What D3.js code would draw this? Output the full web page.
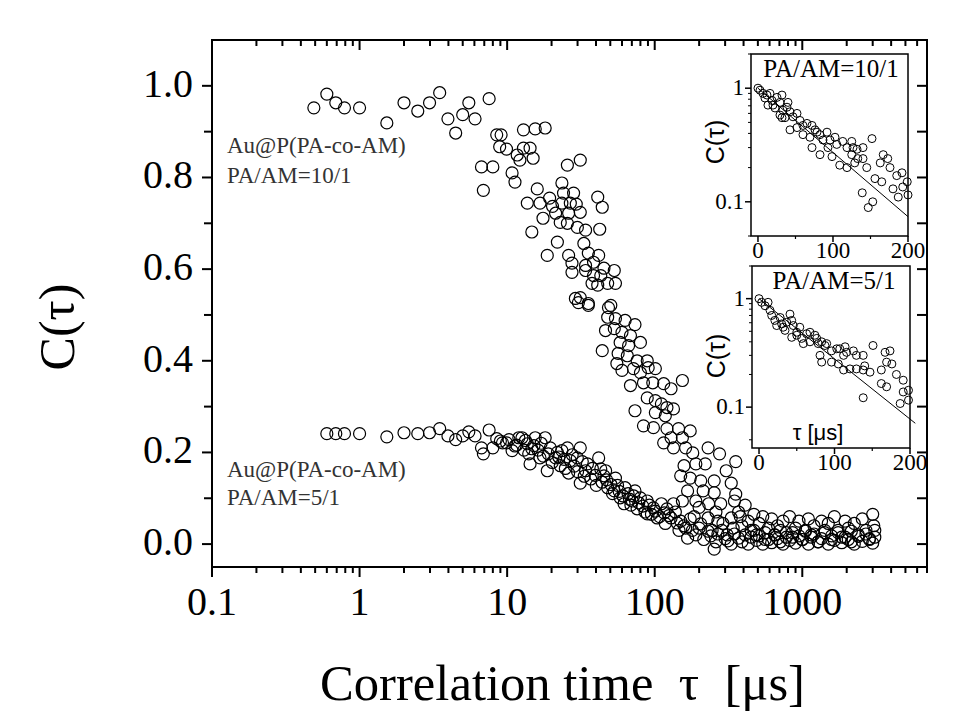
<!DOCTYPE html>
<html><head><meta charset="utf-8">
<script src="https://cdn.jsdelivr.net/npm/d3@7"></script>
<style>body{margin:0;background:#fff}svg{display:block}</style>
</head><body>
<script>
// ---------- DATA ----------
const xTickValues = [0.1, 1, 10, 100, 1000];
const xTickLabels = ["0.1", "1", "10", "100", "1000"];
const yTickValues = [0.0, 0.2, 0.4, 0.6, 0.8, 1.0];
const yTickLabels = ["0.0", "0.2", "0.4", "0.6", "0.8", "1.0"];

// PA/AM = 10/1  [tau (us), C(tau)]
const series10 = [
[0.49,0.952],[0.60,0.982],[0.69,0.963],[0.79,0.952],[1.0,0.952],[1.53,0.919],[2.0,0.963],[2.48,0.945],[2.98,0.963],[3.49,0.985],
[3.97,0.928],[4.48,0.897],[5.0,0.937],[5.5,0.963],[6.06,0.928],[6.7,0.823],[6.9,0.772],[7.55,0.972],[8.0,0.823],[8.5,0.893],
[8.9,0.867],[9.1,0.893],[9.9,0.862],[10.8,0.81],[11.3,0.79],[11.7,0.849],[12.2,0.838],[12.9,0.904],[12.9,0.864],[13.7,0.744],
[14.3,0.864],[14.7,0.681],[15.0,0.842],[15.5,0.906],[16.0,0.775],[16.7,0.744],[17.5,0.711],[18.1,0.908],[18.7,0.63],[19.4,0.755],
[20.3,0.737],[21.3,0.722],[21.9,0.659],[22.9,0.702],[23.5,0.788],[23.5,0.744],[24.1,0.766],[25.6,0.827],[25.6,0.70],[26.1,0.722],
[26.1,0.63],[26.8,0.744],[27.5,0.613],[27.5,0.593],[28.2,0.766],[29.0,0.536],[29.4,0.742],[29.9,0.691],[30.4,0.527],[31.3,0.838],
[31.3,0.724],[31.3,0.538],[33.1,0.656],[34.0,0.685],[34.0,0.608],[34.0,0.597],[35.5,0.635],[35.5,0.525],[35.5,0.521],[37.6,0.569],
[38.5,0.615],[38.5,0.586],[41.1,0.757],[41.1,0.565],[41.7,0.63],[42.4,0.687],[43.1,0.586],[44.1,0.735],[44.1,0.422],[45.3,0.602],
[46.4,0.466],[48.0,0.569],[48.0,0.495],[48.6,0.516],[50.4,0.521],[53.2,0.597],[53.2,0.47],[54.2,0.569],[54.2,0.492],[55.4,0.394],
[56.5,0.416],[58.3,0.44],[60.0,0.462],[60.0,0.379],[63.0,0.488],[65.2,0.411],[66.5,0.433],[68.5,0.455],[68.5,0.346],[71.8,0.383],
[73.5,0.479],[73.5,0.291],[76.0,0.40],[80.0,0.44],[80.0,0.374],[83.9,0.352],[83.9,0.258],[89.0,0.40],[89.0,0.319],[90.3,0.385],
[97,0.352],[98,0.254],[101,0.383],[101,0.313],[101,0.287],[111,0.306],[115,0.35],[115,0.221],[118,0.28],[121,0.298],
[121,0.252],[129,0.339],[129,0.232],[134,0.295],[134,0.21],[145,0.252],[150,0.149],[154,0.357],[154,0.232],[158,0.171],
[162,0.21],[167,0.116],[174,0.247],[174,0.144],[181,0.199],[185,0.06],[190,0.175],[190,0.094],[200,0.08],[205,0.138],
[213,0.116],[220,0.175],[230,0.21],[230,0.057],[232,0.088],[245,0.03],[253,0.138],[253,0.112],[260,0.07],[268,0.05],
[275,0.197],[280,0.088],[290,0.045],[305,0.16],[310,0.02],[330,0.133],[330,0.057],[340,0.035],[347,0.094],[354,0.18],
[354,0.109],[370,0.07],[380,0.06],[390,0.04],[410,0.085],[430,0.05],[450,0.03],[470,0.065],[490,0.02],[510,0.045],
[540,0.06],[560,0.01],[590,0.035],[620,0.055],[650,0.02],[680,0.04],[710,0.005],[740,0.05],[780,0.025],[820,0.06],
[860,0.015],[900,0.035],[950,0.05],[1000,0.01],[1050,0.03],[1100,0.055],[1150,0.02],[1200,0.04],[1280,0.005],[1350,0.05],
[1420,0.025],[1500,0.045],[1580,0.01],[1650,0.06],[1750,0.03],[1850,0.015],[1950,0.05],[2050,0.035],[2150,0.005],[2250,0.045],
[2400,0.02],[2550,0.055],[2700,0.03],[2850,0.01],[3000,0.065],[3050,0.04],[3100,0.015]
];

// PA/AM = 5/1
const series5 = [
[0.6,0.241],[0.69,0.241],[0.79,0.241],[1.0,0.241],[1.53,0.234],[2.0,0.243],[2.48,0.241],[2.98,0.243],[3.49,0.252],[3.97,0.236],
[4.48,0.228],[5.0,0.236],[5.5,0.245],[6.06,0.236],[6.7,0.21],[6.9,0.197],[7.55,0.249],[8.0,0.21],[8.5,0.23],[9.0,0.225],
[9.3,0.221],[9.9,0.221],[10.3,0.228],[10.8,0.204],[11.3,0.214],[11.6,0.216],[12.0,0.232],[12.6,0.232],[13.0,0.205],[13.3,0.226],
[13.7,0.219],[14.0,0.197],[14.3,0.175],[14.7,0.208],[15.2,0.215],[15.5,0.232],[16.2,0.205],[16.7,0.188],[17.0,0.22],[17.6,0.192],
[18.1,0.232],[18.7,0.16],[19.0,0.197],[19.6,0.21],[20.2,0.178],[21.3,0.188],[21.9,0.2],[22.4,0.19],[22.9,0.171],[23.5,0.204],
[24.3,0.185],[24.8,0.165],[25.6,0.21],[26.1,0.155],[26.8,0.182],[27.6,0.195],[28.5,0.17],[29.9,0.188],[30.0,0.158],[31.3,0.21],
[31.3,0.133],[32.3,0.18],[33.3,0.148],[34.0,0.16],[35.0,0.175],[36.9,0.142],[37.8,0.165],[39.5,0.15],[40.2,0.128],[41.7,0.188],
[43.1,0.164],[44.0,0.135],[45.3,0.149],[46.5,0.16],[47.2,0.14],[48.0,0.123],[50.5,0.13],[51.8,0.11],[53.2,0.116],[54.2,0.144],
[56.0,0.128],[57.5,0.115],[58.3,0.101],[61.0,0.105],[62.0,0.088],[63.0,0.123],[66.0,0.11],[67.5,0.098],[69.0,0.085],[70.5,0.094],
[72.0,0.105],[73.5,0.116],[76,0.077],[78,0.09],[80,0.101],[83,0.083],[86,0.07],[89,0.094],[89,0.066],[92,0.085],
[95,0.065],[98,0.079],[101,0.072],[104,0.057],[108,0.06],[111,0.088],[116,0.068],[118,0.045],[121,0.077],[125,0.062],
[129,0.057],[134,0.088],[138,0.07],[142,0.046],[146,0.03],[150,0.05],[154,0.094],[158,0.04],[162,0.035],[167,0.013],
[174,0.055],[180,0.03],[190,0.02],[200,0.035],[205,0.044],[215,0.01],[230,0.028],[240,0.018],[253,-0.011],[260,0.005],
[268,0.022],[285,0.03],[300,0.012],[313,0.007],[330,0.0],[347,0.022],[370,0.013],[390,0.005],[410,0.02],[430,0.0],
[450,0.015],[470,0.03],[490,0.008],[510,0.018],[540,0.0],[560,0.025],[590,0.01],[620,0.003],[650,0.02],[680,0.012],
[710,0.03],[740,0.0],[780,0.015],[820,0.008],[860,0.025],[900,0.002],[950,0.018],[1000,0.01],[1050,0.028],[1100,0.0],
[1150,0.015],[1200,0.022],[1280,0.005],[1350,0.012],[1420,0.03],[1500,0.0],[1580,0.018],[1650,0.008],[1750,0.025],[1850,0.003],
[1950,0.015],[2050,0.01],[2150,0.028],[2250,0.0],[2400,0.017],[2550,0.006],[2700,0.022],[2850,0.012],[3000,0.002],[3100,0.03]
];

// Inset data (linear tau, log C)
const inset10 = [
[0,1.0],[2.7,0.96],[6.7,0.90],[9.3,0.82],[12,0.87],[16,0.90],[18.7,0.78],[13.3,0.71],[20,0.71],[25.3,0.83],
[29.3,0.75],[32,0.87],[33.3,0.64],[29.3,0.58],[22.7,0.67],[38.7,0.68],[40,0.75],[42.7,0.62],[32,0.55],[36,0.55],
[46.7,0.56],[52,0.60],[56,0.52],[42.7,0.43],[52,0.45],[60,0.47],[65.3,0.49],[72,0.47],[76,0.43],[60,0.39],
[69.3,0.37],[78.7,0.41],[82.7,0.39],[92,0.41],[86.7,0.35],[96,0.35],[102.7,0.37],[72,0.30],[82.7,0.26],[93.3,0.30],
[98.7,0.25],[105,0.32],[113,0.34],[118.7,0.30],[125,0.34],[126.7,0.30],[132,0.29],[140,0.30],[125,0.26],[133,0.24],
[140,0.24],[109,0.21],[118.7,0.20],[129,0.22],[145,0.20],[152,0.36],[167,0.26],[173,0.24],[163,0.22],[176,0.20],
[156,0.16],[165,0.15],[185,0.17],[192,0.18],[180,0.13],[193,0.135],[199,0.15],[139,0.12],[187,0.11],[200,0.115],
[153,0.10],[147,0.089]
];
const fit10 = [[0,1.0],[200,0.074]];

const inset5 = [
[0,1.0],[3.5,0.925],[8,0.86],[12,0.925],[14.6,0.78],[16.8,0.70],[21,0.63],[28,0.67],[30,0.585],[23.4,0.565],
[32,0.545],[34.4,0.51],[36.7,0.606],[41,0.72],[43.3,0.63],[45.4,0.565],[50,0.49],[54,0.545],[43.3,0.44],[50,0.46],
[56.5,0.43],[63,0.475],[67.5,0.49],[74,0.46],[76.4,0.43],[58.7,0.385],[67.5,0.40],[78.5,0.385],[83,0.40],[89.6,0.385],
[80.8,0.30],[87.4,0.37],[96,0.33],[103,0.345],[107,0.345],[114,0.36],[125,0.33],[96,0.26],[105,0.25],[112,0.30],
[116,0.32],[129,0.30],[138,0.30],[83,0.26],[112,0.22],[120.5,0.225],[129,0.225],[138,0.22],[147,0.21],[151,0.37],
[140,0.24],[167,0.32],[173.5,0.33],[162,0.22],[169,0.26],[176,0.25],[182,0.20],[191,0.177],[162,0.165],[169,0.154],
[191,0.138],[198,0.143],[138,0.122],[187,0.108],[198,0.116]
];
const fit5 = [[0,1.0],[207,0.071]];

const insetXTicks = [0, 100, 200];
const insetYTicks = [0.1, 1];
const insetYTickLabels = ["0.1", "1"];

// ---------- DRAW ----------
const W = 960, H = 720;
const svg = d3.select("body").append("svg").attr("width", W).attr("height", H)
  .style("font-family", "'Liberation Serif','Times New Roman',serif");
svg.append("rect").attr("width", W).attr("height", H).attr("fill", "#fff");

const L = 212, R = 927, T = 40, B = 567;
const x = d3.scaleLog().domain([0.1, 7000]).range([L, R]);
const y = d3.scaleLinear().domain([-0.05, 1.1]).range([B, T]);

const axisG = svg.append("g").attr("stroke", "#000").attr("fill", "none");
axisG.append("rect").attr("x", L).attr("y", T).attr("width", R - L).attr("height", B - T).attr("stroke-width", 2);

const xMinor = [];
[0.1, 1, 10, 100, 1000].forEach(d => { for (let k = 2; k <= 9; k++) { const v = d * k; if (v <= 7000) xMinor.push(v); } });
function vtick(px, y0, len, w) {
  axisG.append("line").attr("x1", px).attr("x2", px).attr("y1", y0).attr("y2", y0 + len).attr("stroke-width", w);
}
xTickValues.forEach(v => { vtick(x(v), B, 10, 2); vtick(x(v), T, 10, 2); });
xMinor.forEach(v => { vtick(x(v), B, 6, 2); vtick(x(v), T, 6, 2); });

const yMinor = [0.1, 0.3, 0.5, 0.7, 0.9];
function htick(py, x0, len, w) {
  axisG.append("line").attr("y1", py).attr("y2", py).attr("x1", x0).attr("x2", x0 + len).attr("stroke-width", w);
}
yTickValues.forEach(v => { htick(y(v), L, -10, 2); htick(y(v), R, -10, 2); });
yMinor.forEach(v => { htick(y(v), L, -8, 2); htick(y(v), R, -10, 2); });

svg.append("g").selectAll("text").data(xTickValues).join("text")
  .attr("x", d => x(d)).attr("y", 615).attr("text-anchor", "middle")
  .attr("font-size", 40).text((d, i) => xTickLabels[i]);
svg.append("g").selectAll("text").data(yTickValues).join("text")
  .attr("x", 193).attr("y", d => y(d) + 11).attr("text-anchor", "end")
  .attr("font-size", 40).text((d, i) => yTickLabels[i]);

svg.append("text").attr("x", 320).attr("y", 700).attr("font-size", 50)
  .attr("textLength", 485).attr("lengthAdjust", "spacingAndGlyphs")
  .style("white-space", "pre").text("Correlation time  \u03c4  [\u03bcs]");
svg.append("text").attr("transform", "translate(74,327) rotate(-90)").attr("text-anchor", "middle")
  .attr("font-size", 50).text("C(\u03c4)");

const ann = svg.append("g").attr("font-size", 23).attr("fill", "#333");
ann.append("text").attr("x", 227).attr("y", 153).text("Au@P(PA-co-AM)");
ann.append("text").attr("x", 227).attr("y", 183).text("PA/AM=10/1");
ann.append("text").attr("x", 227).attr("y", 477).text("Au@P(PA-co-AM)");
ann.append("text").attr("x", 227).attr("y", 505).text("PA/AM=5/1");

const mk = svg.append("g").attr("fill", "none").attr("stroke", "#000").attr("stroke-width", 1.2);
mk.selectAll("circle.a").data(series10).join("circle").attr("class", "a")
  .attr("cx", d => x(d[0])).attr("cy", d => y(d[1])).attr("r", 6);
mk.selectAll("circle.b").data(series5).join("circle").attr("class", "b")
  .attr("cx", d => x(d[0])).attr("cy", d => y(d[1])).attr("r", 6);

// ---------- INSETS ----------
function drawInset(cfg) {
  const g = svg.append("g");
  const ix = d3.scaleLinear().domain([-9.3, 200]).range([cfg.l, cfg.r]);
  const iy = d3.scaleLog().domain(cfg.ydom).range([cfg.b, cfg.t]);
  g.append("rect").attr("x", cfg.l).attr("y", cfg.t).attr("width", cfg.r - cfg.l).attr("height", cfg.b - cfg.t)
    .attr("fill", "#fff").attr("stroke", "#000").attr("stroke-width", 1.5);
  insetXTicks.forEach(v => g.append("line").attr("x1", ix(v)).attr("x2", ix(v)).attr("y1", cfg.b).attr("y2", cfg.b + 6).attr("stroke", "#000").attr("stroke-width", 1.5));
  [50, 150].forEach(v => g.append("line").attr("x1", ix(v)).attr("x2", ix(v)).attr("y1", cfg.b).attr("y2", cfg.b + 3).attr("stroke", "#000").attr("stroke-width", 1.2));
  insetYTicks.forEach(v => g.append("line").attr("y1", iy(v)).attr("y2", iy(v)).attr("x1", cfg.l).attr("x2", cfg.l - 6).attr("stroke", "#000").attr("stroke-width", 1.5));
  [0.05, 0.2, 0.3, 0.4, 0.5, 0.6, 0.7, 0.8, 0.9, 2].filter(v => v >= cfg.ydom[0] && v <= cfg.ydom[1]).forEach(v =>
    g.append("line").attr("y1", iy(v)).attr("y2", iy(v)).attr("x1", cfg.l).attr("x2", cfg.l - 3).attr("stroke", "#000").attr("stroke-width", 1));
  g.selectAll("text.xl").data(insetXTicks).join("text").attr("class", "xl")
    .attr("x", d => ix(d)).attr("y", cfg.b + 22).attr("text-anchor", "middle").attr("font-size", 23).text(d => d);
  g.selectAll("text.yl").data(insetYTicks).join("text").attr("class", "yl")
    .attr("x", cfg.l - 7).attr("y", d => iy(d) + 7).attr("text-anchor", "end").attr("font-size", 23)
    .text((d, i) => insetYTickLabels[i]);
  g.append("text").attr("transform", `translate(${cfg.l - 27},${cfg.ylabY}) rotate(-90)`).attr("text-anchor", "middle")
    .attr("font-family", "'Liberation Sans',Arial,sans-serif").attr("font-size", 25).text("C(\u03c4)");
  g.append("text").attr("x", cfg.titleX).attr("y", cfg.t + 23).attr("text-anchor", "middle").attr("font-size", 25).text(cfg.title);
  g.append("path").datum(cfg.fit).attr("fill", "none").attr("stroke", "#000").attr("stroke-width", 1)
    .attr("d", d3.line().x(d => ix(d[0])).y(d => iy(d[1])));
  g.append("g").attr("fill", "none").attr("stroke", "#000").attr("stroke-width", 1)
    .selectAll("circle").data(cfg.data).join("circle")
    .attr("cx", d => ix(d[0])).attr("cy", d => iy(d[1])).attr("r", 4);
  return g;
}
drawInset({ l: 751, r: 908, t: 54, b: 236, ydom: [0.05, 2], data: inset10, fit: fit10, title: "PA/AM=10/1", titleX: 831, ylabY: 142 });
const g2 = drawInset({ l: 752, r: 910, t: 266, b: 448, ydom: [0.042, 2], data: inset5, fit: fit5, title: "PA/AM=5/1", titleX: 834, ylabY: 356 });
g2.append("text").attr("x", 818).attr("y", 440).attr("text-anchor", "middle").attr("font-size", 22)
  .attr("font-family", "'Liberation Sans',Arial,sans-serif").text("\u03c4 [\u03bcs]");
</script>
</body></html>
